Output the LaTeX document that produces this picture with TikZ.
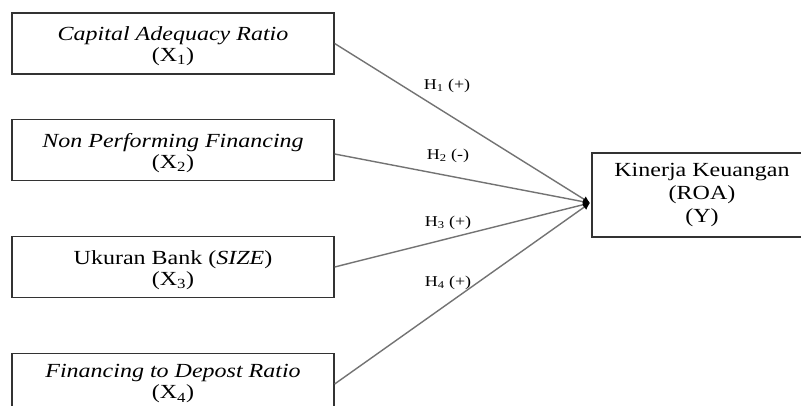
\documentclass[tikz,border=0pt]{standalone}
\usepackage{fontspec}
\setmainfont{Liberation Serif}[FakeStretch=1.2]
\usetikzlibrary{arrows.meta}
\begin{document}
\begin{tikzpicture}[x=1pt,y=-1pt,
  varbox/.style={draw=black!80,line width=1.3pt,minimum width=322pt,minimum height=61pt,align=center,font=\fontsize{20}{21}\selectfont,inner sep=0pt},
  ybox/.style={draw=black!80,line width=1.3pt,minimum width=220pt,minimum height=84pt,align=center,font=\fontsize{20}{23}\selectfont,inner sep=0pt},
  link/.style={draw=black!55,line width=1.4pt,-{Latex[length=7pt,width=7pt,black]}},
  hlab/.style={font=\fontsize{15}{17}\selectfont,inner sep=0pt}]
\clip (0,0) rectangle (801,406);
\fill[white] (0,0) rectangle (801,406);
\node[varbox] (x1) at (173,43.5) {\rule{0pt}{20pt}\textit{Capital Adequacy Ratio}\\(X\textsubscript{1})};
\node[varbox] (x2) at (173,150) {\rule{0pt}{20pt}\textit{Non Performing Financing}\\(X\textsubscript{2})};
\node[varbox] (x3) at (173,267) {\rule{0pt}{20pt}Ukuran Bank (\textit{SIZE})\\(X\textsubscript{3})};
\node[varbox] (x4) at (173,384) {\textit{Financing to Depost Ratio}\\(X\textsubscript{4})};
\node[ybox] (y) at (702,195) {Kinerja Keuangan\\(ROA)\\(Y)};
\coordinate (tip) at (590,203);
\draw[link] (x1.east) -- (tip);
\draw[link] ([yshift=-4pt]x2.east) -- (tip);
\draw[link] (x3.east) -- (tip);
\draw[link] (x4.east) -- (tip);
\node[hlab] (h1) at (447,86) {H\textsubscript{1} (+)};
\node[hlab] (h2) at (448,156) {H\textsubscript{2} (-)};
\node[hlab] (h3) at (448,223) {H\textsubscript{3} (+)};
\node[hlab] (h4) at (448,283) {H\textsubscript{4} (+)};
\end{tikzpicture}
\end{document}
